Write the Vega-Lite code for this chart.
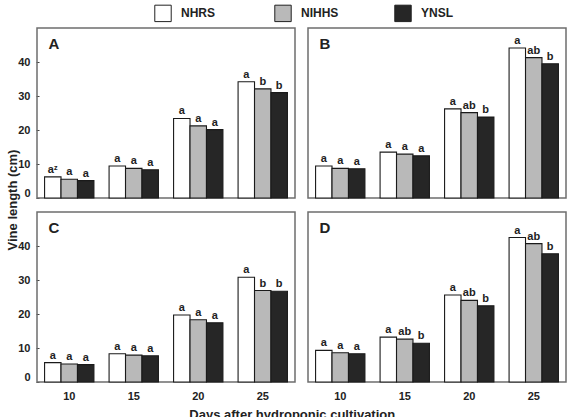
{
  "$schema": "https://vega.github.io/schema/vega-lite/v6.json",
  "padding": {"left": 6, "top": 4, "right": 0, "bottom": 0},
  "autosize": {"type": "pad"},
  "title": {"text": "Vine length (cm)", "orient": "left", "anchor": "middle", "fontSize": 13, "font": "Liberation Sans", "fontWeight": "bold", "color": "#222", "offset": 1, "dx": 13, "dy": 3},
  "hconcat": [
    {
      "title": {"text": "Days after hydroponic cultivation", "orient": "bottom", "anchor": "middle", "fontSize": 13, "font": "Liberation Sans", "fontWeight": "bold", "color": "#222", "offset": 8},
      "data": {"values": [
        {"panel": "A", "row": "top", "col": "left", "day": "10", "series": "NHRS", "value": 6.2, "sig": "aᶻ"},
        {"panel": "A", "row": "top", "col": "left", "day": "10", "series": "NIHHS", "value": 5.5, "sig": "a"},
        {"panel": "A", "row": "top", "col": "left", "day": "10", "series": "YNSL", "value": 5.1, "sig": "a"},
        {"panel": "A", "row": "top", "col": "left", "day": "15", "series": "NHRS", "value": 9.4, "sig": "a"},
        {"panel": "A", "row": "top", "col": "left", "day": "15", "series": "NIHHS", "value": 8.7, "sig": "a"},
        {"panel": "A", "row": "top", "col": "left", "day": "15", "series": "YNSL", "value": 8.3, "sig": "a"},
        {"panel": "A", "row": "top", "col": "left", "day": "20", "series": "NHRS", "value": 23.4, "sig": "a"},
        {"panel": "A", "row": "top", "col": "left", "day": "20", "series": "NIHHS", "value": 21.2, "sig": "a"},
        {"panel": "A", "row": "top", "col": "left", "day": "20", "series": "YNSL", "value": 20.1, "sig": "a"},
        {"panel": "A", "row": "top", "col": "left", "day": "25", "series": "NHRS", "value": 34.2, "sig": "a"},
        {"panel": "A", "row": "top", "col": "left", "day": "25", "series": "NIHHS", "value": 32.1, "sig": "b"},
        {"panel": "A", "row": "top", "col": "left", "day": "25", "series": "YNSL", "value": 31.0, "sig": "b"},
        {"panel": "B", "row": "top", "col": "right", "day": "10", "series": "NHRS", "value": 9.4, "sig": "a"},
        {"panel": "B", "row": "top", "col": "right", "day": "10", "series": "NIHHS", "value": 8.7, "sig": "a"},
        {"panel": "B", "row": "top", "col": "right", "day": "10", "series": "YNSL", "value": 8.6, "sig": "a"},
        {"panel": "B", "row": "top", "col": "right", "day": "15", "series": "NHRS", "value": 13.5, "sig": "a"},
        {"panel": "B", "row": "top", "col": "right", "day": "15", "series": "NIHHS", "value": 12.9, "sig": "a"},
        {"panel": "B", "row": "top", "col": "right", "day": "15", "series": "YNSL", "value": 12.4, "sig": "a"},
        {"panel": "B", "row": "top", "col": "right", "day": "20", "series": "NHRS", "value": 26.2, "sig": "a"},
        {"panel": "B", "row": "top", "col": "right", "day": "20", "series": "NIHHS", "value": 25.1, "sig": "ab"},
        {"panel": "B", "row": "top", "col": "right", "day": "20", "series": "YNSL", "value": 23.8, "sig": "b"},
        {"panel": "B", "row": "top", "col": "right", "day": "25", "series": "NHRS", "value": 44.1, "sig": "a"},
        {"panel": "B", "row": "top", "col": "right", "day": "25", "series": "NIHHS", "value": 41.3, "sig": "ab"},
        {"panel": "B", "row": "top", "col": "right", "day": "25", "series": "YNSL", "value": 39.5, "sig": "b"},
        {"panel": "C", "row": "bottom", "col": "left", "day": "10", "series": "NHRS", "value": 5.7, "sig": "a"},
        {"panel": "C", "row": "bottom", "col": "left", "day": "10", "series": "NIHHS", "value": 5.3, "sig": "a"},
        {"panel": "C", "row": "bottom", "col": "left", "day": "10", "series": "YNSL", "value": 5.1, "sig": "a"},
        {"panel": "C", "row": "bottom", "col": "left", "day": "15", "series": "NHRS", "value": 8.3, "sig": "a"},
        {"panel": "C", "row": "bottom", "col": "left", "day": "15", "series": "NIHHS", "value": 7.9, "sig": "a"},
        {"panel": "C", "row": "bottom", "col": "left", "day": "15", "series": "YNSL", "value": 7.7, "sig": "a"},
        {"panel": "C", "row": "bottom", "col": "left", "day": "20", "series": "NHRS", "value": 19.7, "sig": "a"},
        {"panel": "C", "row": "bottom", "col": "left", "day": "20", "series": "NIHHS", "value": 18.3, "sig": "a"},
        {"panel": "C", "row": "bottom", "col": "left", "day": "20", "series": "YNSL", "value": 17.4, "sig": "a"},
        {"panel": "C", "row": "bottom", "col": "left", "day": "25", "series": "NHRS", "value": 30.8, "sig": "a"},
        {"panel": "C", "row": "bottom", "col": "left", "day": "25", "series": "NIHHS", "value": 26.9, "sig": "b"},
        {"panel": "C", "row": "bottom", "col": "left", "day": "25", "series": "YNSL", "value": 26.7, "sig": "b"},
        {"panel": "D", "row": "bottom", "col": "right", "day": "10", "series": "NHRS", "value": 9.3, "sig": "a"},
        {"panel": "D", "row": "bottom", "col": "right", "day": "10", "series": "NIHHS", "value": 8.6, "sig": "a"},
        {"panel": "D", "row": "bottom", "col": "right", "day": "10", "series": "YNSL", "value": 8.3, "sig": "a"},
        {"panel": "D", "row": "bottom", "col": "right", "day": "15", "series": "NHRS", "value": 13.2, "sig": "a"},
        {"panel": "D", "row": "bottom", "col": "right", "day": "15", "series": "NIHHS", "value": 12.6, "sig": "ab"},
        {"panel": "D", "row": "bottom", "col": "right", "day": "15", "series": "YNSL", "value": 11.4, "sig": "b"},
        {"panel": "D", "row": "bottom", "col": "right", "day": "20", "series": "NHRS", "value": 25.6, "sig": "a"},
        {"panel": "D", "row": "bottom", "col": "right", "day": "20", "series": "NIHHS", "value": 24.0, "sig": "ab"},
        {"panel": "D", "row": "bottom", "col": "right", "day": "20", "series": "YNSL", "value": 22.4, "sig": "b"},
        {"panel": "D", "row": "bottom", "col": "right", "day": "25", "series": "NHRS", "value": 42.5, "sig": "a"},
        {"panel": "D", "row": "bottom", "col": "right", "day": "25", "series": "NIHHS", "value": 40.7, "sig": "ab"},
        {"panel": "D", "row": "bottom", "col": "right", "day": "25", "series": "YNSL", "value": 37.7, "sig": "b"}
      ]},
      "facet": {
        "row": {"field": "row", "type": "nominal", "sort": ["top", "bottom"], "header": {"labels": false, "title": null}, "title": null},
        "column": {"field": "col", "type": "nominal", "sort": ["left", "right"], "header": {"labels": false, "title": null}, "title": null}
      },
      "spacing": {"row": 11, "column": 11},
      "spec": {
        "width": 258,
        "height": 170,
        "encoding": {
          "x": {"field": "day", "type": "ordinal", "scale": {"paddingInner": 0.235, "paddingOuter": 0.1175},
            "axis": {"title": null, "ticks": false, "labelAngle": 0, "labelPadding": 6, "labelFontSize": 11}},
          "y": {"field": "value", "type": "quantitative", "scale": {"domain": [0, 50], "nice": false},
            "axis": {"title": null, "values": [0, 10, 20, 30, 40], "tickSize": -3, "tickColor": "#444", "labelPadding": 9, "labelFlush": true, "labelFontSize": 11}}
        },
        "layer": [
          {
            "mark": {"type": "bar", "stroke": "#1a1a1a", "strokeWidth": 1.1},
            "encoding": {
              "xOffset": {"field": "series", "type": "nominal", "sort": ["NHRS", "NIHHS", "YNSL"]},
              "fill": {"field": "series", "type": "nominal", "sort": ["NHRS", "NIHHS", "YNSL"],
                "scale": {"domain": ["NHRS", "NIHHS", "YNSL"], "range": ["#ffffff", "#b9b9b9", "#262626"]},
                "legend": {"title": null, "orient": "none", "legendX": 117, "legendY": -24, "direction": "horizontal",
                  "gridAlign": "all", "symbolType": "square", "symbolSize": 270, "symbolStrokeColor": "#222", "symbolStrokeWidth": 1,
                  "symbolOpacity": 1, "labelFontSize": 12, "labelFontWeight": "bold", "labelFont": "Liberation Sans",
                  "labelColor": "#222", "labelOffset": 9, "columnPadding": 53}}
            }
          },
          {
            "mark": {"type": "text", "baseline": "alphabetic", "dy": -4, "fontSize": 11, "fontWeight": "bold", "font": "Liberation Sans", "color": "#222"},
            "encoding": {
              "xOffset": {"field": "series", "type": "nominal", "sort": ["NHRS", "NIHHS", "YNSL"]},
              "text": {"field": "sig"}
            }
          },
          {
            "transform": [{"filter": "datum.day == '10' && datum.series == 'NHRS'"}],
            "mark": {"type": "text", "align": "left", "baseline": "middle", "fontSize": 15, "fontWeight": "bold", "font": "Liberation Sans", "color": "#222"},
            "encoding": {
              "x": {"field": "day", "type": "ordinal", "bandPosition": 0.08},
              "y": {"datum": 45.3},
              "text": {"field": "panel"}
            }
          }
        ]
      }
    }
  ],
  "config": {
    "view": {"stroke": "#6e6e6e", "strokeWidth": 1.5},
    "axis": {"labelFont": "Liberation Sans", "titleFont": "Liberation Sans", "labelFontWeight": "bold", "titleFontWeight": "bold", "labelColor": "#222", "titleColor": "#222", "grid": false, "domain": false}
  }
}
